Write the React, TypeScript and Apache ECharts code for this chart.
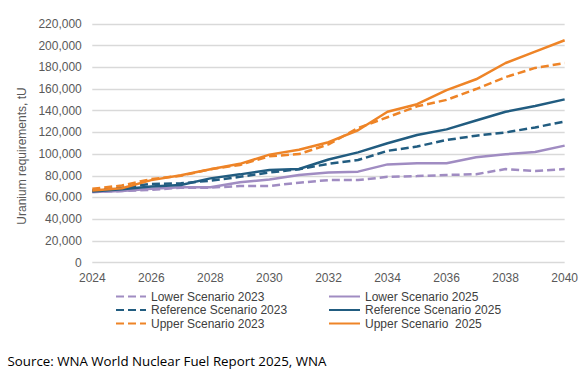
import React, { useEffect, useRef } from "react";
import * as echarts from "echarts";

const years = ["2024","2025","2026","2027","2028","2029","2030","2031","2032","2033","2034","2035","2036","2037","2038","2039","2040"];
const yTicks = [0, 20000, 40000, 60000, 80000, 100000, 120000, 140000, 160000, 180000, 200000, 220000];

const lower2023 = [65000, 66000, 67000, 69000, 69000, 70600, 70600, 73600, 76000, 76000, 79000, 79700, 80700, 81500, 86200, 84400, 86200];
const lower2025 = [65000, 66000, 68000, 69500, 69400, 74000, 76500, 80700, 83000, 83800, 90500, 91500, 91500, 97000, 99800, 102000, 107800];
const ref2023 = [66500, 69000, 72500, 73000, 75500, 79000, 83000, 86000, 91000, 94500, 103000, 107000, 113000, 117000, 120000, 124600, 130000];
const ref2025 = [65500, 67500, 70000, 71500, 77600, 81300, 85300, 86200, 95000, 101600, 110000, 117600, 122800, 131000, 139000, 144300, 150500];
const upper2023 = [68000, 71000, 77000, 80000, 86000, 90000, 98000, 100000, 109000, 124000, 134000, 144000, 150000, 160000, 171000, 179500, 184000];
const upper2025 = [66500, 68500, 76000, 80500, 86000, 91000, 99500, 104000, 111000, 122000, 139000, 146000, 159000, 169000, 184000, 194500, 205000];

const names2023 = ["Lower Scenario 2023", "Reference Scenario 2023", "Upper Scenario 2023"];
const names2025 = ["Lower Scenario 2025", "Reference Scenario 2025", "Upper Scenario  2025"];

const PURPLE = "#A08CC2";
const BLUE = "#215C80";
const ORANGE = "#EE8427";

export default function App() {
  const ref = useRef<HTMLDivElement>(null);
  useEffect(() => {
    if (!ref.current) return;
    const chart = echarts.init(ref.current, undefined, { renderer: "svg" });
    const mk = (name: string, data: number[], color: string, dashed: boolean) => ({
      name,
      type: "line",
      data,
      symbol: "none",
      showSymbol: false,
      lineStyle: { color, width: 2.5, type: dashed ? [8, 4] : "solid" },
      itemStyle: { color },
      emphasis: { disabled: true },
    });
    const legendCommon = {
      orient: "vertical",
      padding: 0,
      itemHeight: 13.5,
      itemGap: 0,
      textStyle: { fontFamily: "Liberation Sans, Arial", fontSize: 12, color: "#404040", lineHeight: 13.5 },
      selectedMode: false,
      itemStyle: { opacity: 0 },
    };
    chart.setOption({
      animation: false,
      backgroundColor: "#ffffff",
      grid: { left: 92.3, right: 15.5, top: 24, bottom: 109.5, containLabel: false },
      xAxis: {
        type: "category",
        data: years,
        boundaryGap: false,
        axisLine: { show: false },
        axisTick: { show: false },
        axisLabel: {
          interval: 1,
          margin: 9,
          fontFamily: "Liberation Sans, Arial",
          fontSize: 12,
          color: "#595959",
        },
        splitLine: { show: false },
      },
      yAxis: {
        type: "value",
        min: yTicks[0],
        max: yTicks[yTicks.length - 1],
        interval: 20000,
        axisLine: { show: false },
        axisTick: { show: false },
        axisLabel: {
          margin: 10.5,
          fontFamily: "Liberation Sans, Arial",
          fontSize: 12,
          color: "#595959",
          formatter: (v: number) => v.toLocaleString("en-US"),
        },
        splitLine: { lineStyle: { color: "#D9D9D9", width: 1.3 } },
      },
      legend: [
        { ...legendCommon, left: 115, top: 289.75, itemWidth: 30, data: names2023 },
        { ...legendCommon, left: 328, top: 289.75, itemWidth: 31, data: names2025 },
      ],
      graphic: [
        {
          type: "text",
          x: 21.7,
          y: 156,
          rotation: Math.PI / 2,
          style: {
            text: "Uranium requirements, tU",
            fontFamily: "Liberation Sans, Arial",
            fontSize: 12,
            fill: "#595959",
            align: "center",
            verticalAlign: "middle",
          },
        },
        {
          type: "text",
          x: 7.5,
          y: 361,
          style: {
            text: "Source: WNA World Nuclear Fuel Report 2025, WNA",
            fontFamily: "Open Sans",
            fontSize: 13.3,
            fill: "#000000",
            align: "left",
            verticalAlign: "middle",
          },
        },
      ],
      series: [
        mk(names2023[0], lower2023, PURPLE, true),
        mk(names2025[0], lower2025, PURPLE, false),
        mk(names2023[1], ref2023, BLUE, true),
        mk(names2025[1], ref2025, BLUE, false),
        mk(names2023[2], upper2023, ORANGE, true),
        mk(names2025[2], upper2025, ORANGE, false),
      ],
    });
    return () => chart.dispose();
  }, []);
  return (
    <div
      ref={ref}
      style={{ position: "fixed", left: 0, top: 0, width: 581, height: 372, background: "#fff" }}
    />
  );
}
